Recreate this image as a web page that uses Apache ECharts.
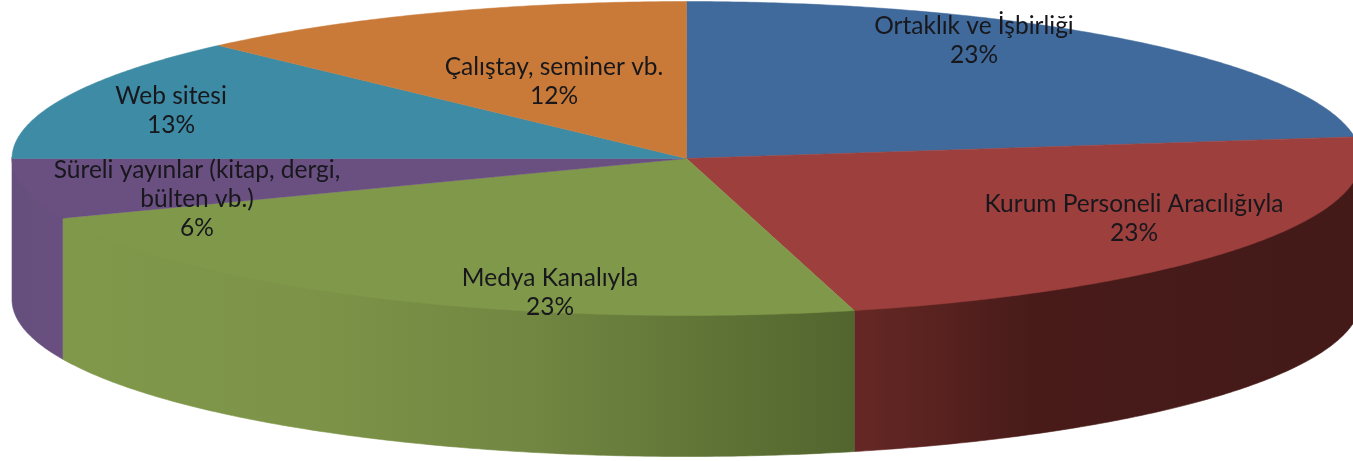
<!DOCTYPE html>
<html>
<head>
<meta charset="utf-8">
<title>pie</title>
<style>
  html, body { margin: 0; padding: 0; background: #fff; }
  #main { width: 1353px; height: 461px; }
</style>
<script src="https://cdn.jsdelivr.net/npm/echarts@6/dist/echarts.min.js"></script>
</head>
<body>
<div id="main"></div>
<script>
const categories = [
  'Ortaklık ve İşbirliği',
  'Kurum Personeli Aracılığıyla',
  'Medya Kanalıyla',
  'Süreli yayınlar (kitap, dergi,\nbülten vb.)',
  'Web sitesi',
  'Çalıştay, seminer vb.'
]
const values = [22.8, 23.2, 22.8, 6.2, 12.8, 12.2]

const topColors = ['#406a9b', '#9c3f3d', '#80984a', '#6a4f81', '#3d8ba4', '#c97a38']
const sideStops = [
  [],
  [[0, '#662825'], [0.35, '#481b19'], [1, '#431a18']],
  [[0, '#80984a'], [0.3, '#7d9448'], [0.6, '#718641'], [1, '#52652e']],
  [[0, '#654f7c'], [1, '#694f80']],
  [],
  []
]
// label centres, x and y of the first line
const labelPos = [[974, 26], [1134, 204], [550, 278], [197, 170], [171, 96], [554, 67]]

const cx = 686.5, cy = 158.5, rx = 674.5, ry = 157, depth = 141
const lineHeight = 29
const total = values.reduce((a, b) => a + b, 0)

function pointAt(deg, dy) {
  const r = deg * Math.PI / 180
  return [cx + rx * Math.sin(r), cy + dy - ry * Math.cos(r)]
}

function arc(from, to, dy) {
  const pts = []
  const n = Math.max(2, Math.ceil(Math.abs(to - from) * 2))
  for (let i = 0; i <= n; i++) {
    pts.push(pointAt(from + (to - from) * i / n, dy))
  }
  return pts
}

function renderSlice(params, api) {
  const i = api.value(0)
  const before = values.slice(0, i).reduce((a, b) => a + b, 0)
  const start = before / total * 360
  const end = start + api.value(1) / total * 360
  const children = []

  // side wall, only the part facing the viewer. starts a bit high so it tucks under the top face
  const a = Math.max(start, 90)
  const b = Math.min(end, 270)
  if (b > a && sideStops[i].length) {
    const top = arc(a, b, -1.5)
    const bottom = arc(b, a, depth)
    const xs = top.map(p => p[0])
    const fill = new echarts.graphic.LinearGradient(Math.min(...xs), 0, Math.max(...xs), 0,
      sideStops[i].map(s => ({ offset: s[0], color: s[1] })), true)
    children.push({
      type: 'polygon',
      shape: { points: top.concat(bottom) },
      style: { fill: fill, stroke: fill, lineWidth: 0.6 }
    })
  }

  children.push({
    type: 'polygon',
    shape: { points: [[cx, cy]].concat(arc(start, end, 0)) },
    style: { fill: topColors[i], stroke: topColors[i], lineWidth: 0.5 }
  })

  const lines = categories[i].split('\n').concat(Math.round(api.value(1)) + '%')
  lines.forEach((line, k) => {
    children.push({
      type: 'text',
      z2: 100,
      style: {
        text: line,
        x: labelPos[i][0],
        y: labelPos[i][1] + k * lineHeight,
        align: 'center',
        verticalAlign: 'middle',
        fill: '#17171c',
        font: '24.5px Lato'
      }
    })
  })
  return { type: 'group', children: children }
}

const chart = echarts.init(document.getElementById('main'))
chart.setOption({
  animation: false,
  backgroundColor: '#fff',
  series: [{
    type: 'custom',
    coordinateSystem: 'none',
    renderItem: renderSlice,
    silent: true,
    data: values.map((v, i) => [i, v])
  }]
})
</script>
</body>
</html>
